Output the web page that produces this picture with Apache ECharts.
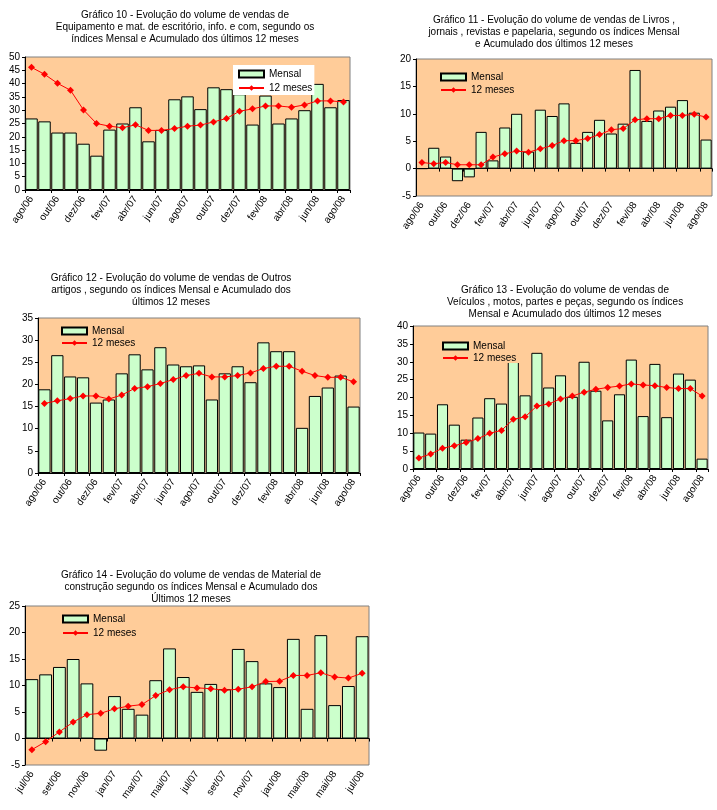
<!DOCTYPE html>
<html><head><meta charset="utf-8">
<script src="https://cdn.jsdelivr.net/npm/echarts@6/dist/echarts.min.js"></script>
<style>html,body{margin:0;padding:0;background:#fff}#c{width:717px;height:810px}</style>
</head><body><div id="c"></div>
<script>
const catsAgo = ['ago/06','set/06','out/06','nov/06','dez/06','jan/07','fev/07','mar/07','abr/07','mai/07','jun/07','jul/07','ago/07','set/07','out/07','nov/07','dez/07','jan/08','fev/08','mar/08','abr/08','mai/08','jun/08','jul/08','ago/08'];
const catsJul = ['jul/06','ago/06','set/06','out/06','nov/06','dez/06','jan/07','fev/07','mar/07','abr/07','mai/07','jun/07','jul/07','ago/07','set/07','out/07','nov/07','dez/07','jan/08','fev/08','mar/08','abr/08','mai/08','jun/08','jul/08'];

const c10Mensal = [26.9, 25.8, 21.6, 21.6, 17.4, 12.9, 22.7, 25.0, 31.1, 18.3, 22.6, 34.1, 35.2, 30.4, 38.6, 37.9, 36.0, 24.6, 35.5, 25.0, 26.9, 30.0, 39.9, 31.1, 33.8];
const c10Acum   = [46.1, 43.5, 40.1, 37.5, 30.1, 25.0, 24.0, 23.4, 24.5, 22.4, 22.4, 23.1, 24.0, 24.4, 25.6, 26.9, 29.6, 30.5, 31.6, 31.6, 31.1, 32.0, 33.5, 33.5, 33.1];

const c11Mensal = [0, 3.8, 2.2, -2.3, -1.6, 6.7, 1.5, 7.5, 10.0, 3.1, 10.75, 9.6, 11.9, 4.7, 6.7, 8.9, 6.4, 8.2, 18.0, 8.7, 10.6, 11.3, 12.5, 10.2, 5.3];
const c11Acum   = [1.1, 0.9, 1.1, 0.7, 0.7, 0.7, 2.1, 2.7, 3.2, 3.0, 3.6, 4.2, 5.1, 5.1, 5.5, 6.2, 7.1, 7.3, 8.9, 9.1, 9.1, 9.7, 9.7, 9.9, 9.4];

const c12Mensal = [18.9, 26.6, 21.8, 21.6, 15.9, 16.6, 22.5, 26.8, 23.4, 28.4, 24.5, 24.1, 24.3, 16.6, 22.5, 24.1, 20.5, 29.5, 27.5, 27.5, 10.2, 17.4, 19.3, 22.0, 15.0];
const c12Acum   = [15.7, 16.3, 16.8, 17.4, 17.4, 16.7, 17.6, 19.1, 19.5, 20.2, 21.1, 22.0, 22.5, 21.7, 21.7, 22.0, 22.6, 23.6, 24.1, 24.1, 23.0, 22.0, 21.6, 21.6, 20.6];

const c13Mensal = [10.2, 9.9, 18.1, 12.4, 8.2, 14.4, 19.8, 18.3, 34.2, 20.6, 32.5, 22.8, 26.2, 20.2, 30.0, 21.9, 13.6, 20.9, 30.6, 14.8, 29.4, 14.5, 26.7, 25.0, 2.9];
const c13Acum   = [3.1, 4.2, 5.8, 6.5, 7.4, 8.5, 10.0, 10.8, 13.9, 14.6, 17.6, 18.2, 19.6, 20.4, 21.5, 22.3, 22.8, 23.2, 23.8, 23.5, 23.3, 22.8, 22.5, 22.5, 20.4];

const c14Mensal = [11.2, 12.1, 13.5, 15.0, 10.4, -2.3, 8.0, 5.6, 4.5, 11.0, 17.0, 11.6, 8.8, 10.3, 9.3, 16.9, 14.6, 10.4, 9.7, 18.8, 5.6, 19.5, 6.3, 9.9, 19.3];
const c14Acum   = [-2.1, -0.6, 1.25, 3.1, 4.5, 4.75, 5.6, 6.1, 6.4, 8.1, 9.2, 9.75, 9.55, 9.4, 9.1, 9.3, 9.75, 10.75, 10.8, 11.9, 11.9, 12.4, 11.6, 11.4, 12.3];

const T10 = 'Gráfico 10 - Evolução do volume de vendas de\nEquipamento e mat. de escritório, info. e com, segundo os\níndices Mensal e Acumulado dos últimos 12 meses';
const T11 = 'Gráfico 11 - Evolução do volume de vendas de Livros ,\njornais , revistas e papelaria, segundo os índices Mensal\ne Acumulado dos últimos 12 meses';
const T12 = 'Gráfico 12 - Evolução do volume de vendas de Outros\nartigos , segundo os índices Mensal e Acumulado dos\núltimos 12 meses';
const T13 = 'Gráfico 13 - Evolução do volume de vendas de\nVeículos , motos, partes e peças, segundo os índices\nMensal e Acumulado dos últimos 12 meses';
const T14 = 'Gráfico 14 - Evolução do volume de vendas de Material de\nconstrução segundo os índices Mensal e Acumulado dos\nÚltimos 12 meses';

const F = '"Liberation Sans", Arial, sans-serif';

const charts = [
  {title:T10, tx:180, ty:4, grid:{left:25, top:57, width:325, height:133}, cats:catsAgo, mensal:c10Mensal, acum:c10Acum, min:0, max:50, zero:false, gap:'4%',
   lg:{left:233, top:65, padding:[4,2,2,5], backgroundColor:'#ffffff', itemGap:4}},
  {title:T11, tx:549, ty:9, grid:{left:416, top:59, width:296, height:137}, cats:catsAgo, mensal:c11Mensal, acum:c11Acum, min:-5, max:20, zero:true, gap:'6%',
   lg:{left:440, top:72, padding:0, backgroundColor:'transparent', itemGap:3}},
  {title:T12, tx:166, ty:267, grid:{left:38, top:318, width:322, height:155}, cats:catsAgo, mensal:c12Mensal, acum:c12Acum, min:0, max:35, zero:false, gap:'5%',
   lg:{left:61, top:326, padding:0, backgroundColor:'transparent', itemGap:2}},
  {title:T13, tx:560, ty:279, grid:{left:413, top:326, width:295, height:143}, cats:catsAgo, mensal:c13Mensal, acum:c13Acum, min:0, max:40, zero:false, gap:'6%',
   lg:{left:437, top:337, padding:[4,10,0,5], backgroundColor:'#FFCC99', itemGap:2}},
  {title:T14, tx:186, ty:564, grid:{left:25, top:606, width:344, height:159}, cats:catsJul, mensal:c14Mensal, acum:c14Acum, min:-5, max:25, zero:true, gap:'7%',
   lg:{left:62, top:614, padding:0, backgroundColor:'transparent', itemGap:4}}
];

const option = {animation:false, backgroundColor:'#ffffff', title:[], legend:[], grid:[], xAxis:[], yAxis:[], series:[]};
charts.forEach((c, i) => {
  option.title.push({text:c.title, left:c.tx, top:c.ty, textAlign:'center',
    textStyle:{fontFamily:F, fontSize:10, fontWeight:'normal', color:'#000', lineHeight:12}});
  option.grid.push(Object.assign({show:true, backgroundColor:'#FFCC99', borderColor:'#808080', borderWidth:1, containLabel:false}, c.grid));
  const xi = option.xAxis.length;
  option.xAxis.push({gridIndex:i, type:'category', data:c.cats, boundaryGap:true, position:'bottom',
    axisLine:{show:!c.zero, onZero:false, lineStyle:{color:'#000', width:1}},
    axisTick:{show:!c.zero, length:3, interval:1, lineStyle:{color:'#000'}},
    axisLabel:{interval:1, rotate:55, margin:7, fontSize:10, fontFamily:F, color:'#000'},
    splitLine:{show:false}});
  if (c.zero) {
    option.xAxis.push({gridIndex:i, type:'category', data:c.cats, boundaryGap:true, position:'bottom',
      axisLine:{show:true, onZero:true, lineStyle:{color:'#000', width:1}},
      axisTick:{show:true, length:3, interval:1, lineStyle:{color:'#000'}},
      axisLabel:{show:false}, splitLine:{show:false}});
  }
  option.yAxis.push({gridIndex:i, type:'value', min:c.min, max:c.max, interval:5,
    axisLine:{show:true, lineStyle:{color:'#000', width:1}},
    axisTick:{show:true, length:3, lineStyle:{color:'#000'}},
    axisLabel:{fontSize:10, fontFamily:F, color:'#000', margin:5},
    splitLine:{show:false}});
  option.series.push({type:'bar', name:'Mensal', xAxisIndex:xi, yAxisIndex:i, data:c.mensal, barCategoryGap:c.gap,
    itemStyle:{color:'#CCFFCC', borderColor:'#000', borderWidth:1}, z:2});
  option.series.push({type:'line', name:'12 meses', xAxisIndex:xi, yAxisIndex:i, data:c.acum,
    symbol:'diamond', symbolSize:7, showAllSymbol:true,
    lineStyle:{color:'#FF0000', width:1}, itemStyle:{color:'#FF0000'}, z:3});
  option.legend.push(Object.assign({orient:'vertical', itemWidth:25, itemHeight:7, selectedMode:false,
    textStyle:{fontFamily:F, fontSize:10, color:'#000'},
    data:[{name:'Mensal', icon:'rect'}, {name:'12 meses'}]}, c.lg));
});

const chart = echarts.init(document.getElementById('c'), null, {renderer:'canvas'});
chart.setOption(option);
</script>
</body></html>
